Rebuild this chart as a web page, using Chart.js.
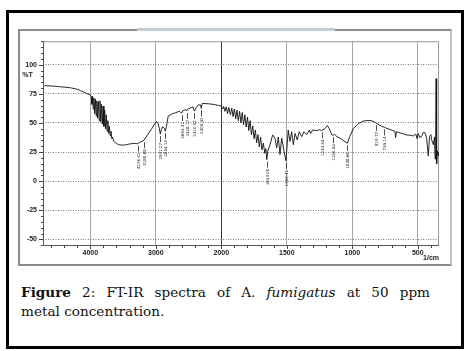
<!DOCTYPE html>
<html>
<head>
<meta charset="utf-8">
<script src="https://cdn.jsdelivr.net/npm/chart.js@4.4.0/dist/chart.umd.min.js"></script>
<style>
  body { margin: 0; background: #fff; width: 471px; height: 351px; overflow: hidden; position: relative; }
  #outer { position: absolute; left: 6px; top: 10px; width: 452px; height: 333px; border: 3px solid #000; }
  #frame { position: absolute; left: 18px; top: 29px; width: 430px; height: 233px;
           border: 2px solid #8c8c8c; border-right-color: #c4c4c4; }
  #band { position: absolute; left: 137px; top: 28px; width: 198px; height: 3px; background: #c3ccd8; }
  #frame canvas { position: absolute; left: 0; top: 0; }
  #cap { position: absolute; left: 21px; top: 283px; width: 409px;
         font-family: "DejaVu Serif", serif; font-size: 13.6px; line-height: 18.5px; color: #111; }
  #cap .l1 { text-align: justify; text-align-last: justify; }
</style>
</head>
<body>
<div id="outer"></div>
<div id="frame"><canvas id="ftir" width="430" height="233"></canvas></div>
<div id="band"></div>
<div id="cap">
  <div class="l1"><b>Figure</b> 2: FT-IR spectra of A. <i>fumigatus</i> at 50 ppm</div>
  <div>metal concentration.</div>
</div>
<script>
// spectrum: wavenumber (1/cm) and %T
const wavenumbers = [
  4700, 4600, 4500, 4400, 4300, 4200, 4150, 4100, 4050, 4000,
  3985, 3975, 3965, 3955, 3945, 3932, 3922, 3910, 3900, 3888,
  3876, 3864, 3852, 3840, 3828, 3816, 3804, 3792, 3780, 3768,
  3756, 3744, 3732, 3720, 3708, 3696, 3684, 3672, 3660, 3645,
  3625, 3600, 3575, 3550, 3500, 3450, 3400, 3330, 3276, 3240,
  3180, 3130, 3063, 3020, 2990, 2965, 2945, 2931, 2918, 2895,
  2870, 2854, 2838, 2810, 2760, 2700, 2640, 2605, 2585, 2545,
  2528, 2510, 2460, 2430, 2410, 2380, 2350, 2318, 2305, 2290,
  2200, 2100, 2040, 2000,
  1990, 1982, 1972, 1962, 1952, 1942, 1930, 1920, 1910, 1900,
  1890, 1880, 1870, 1860, 1850, 1840, 1830, 1820, 1810, 1800,
  1790, 1780, 1770, 1760, 1750, 1740, 1730, 1720, 1710, 1700,
  1690, 1679, 1668, 1660, 1653, 1645, 1628, 1608, 1590, 1577,
  1565, 1552, 1539, 1521, 1506, 1489, 1476, 1463, 1450, 1437,
  1420, 1405, 1386, 1369, 1348, 1328, 1318, 1302, 1272, 1250,
  1234, 1210, 1190, 1175, 1157, 1150, 1135, 1119, 1080, 1050,
  1038, 1019, 992, 954, 916, 865, 835, 819, 790, 755,
  712, 675, 669, 663, 620, 585, 560, 534, 515, 505,
  496, 485, 470, 458, 445, 432, 420, 410, 400, 394,
  381, 372, 368, 364, 360, 356, 350, 345, 340
];
const transmittance = [
  82, 81.8, 81.3, 80.8, 80.2, 79, 77.8, 76.5, 75.2, 74,
  72.5, 66, 73, 62, 71.5, 58, 70.5, 56, 69, 54,
  68.5, 52, 69, 51, 66, 49, 64.5, 47, 61, 45,
  57, 43, 52, 41, 47, 39, 43, 36.5, 38, 34.5,
  33.5, 32.5, 31.6, 31.2, 31, 31.3, 32, 32.5, 32.2, 33.5,
  35.2, 39.5, 45, 49, 51.3, 49.5, 45, 40.5, 44, 46.7,
  45.5, 43, 47, 56, 57.5, 58.8, 60, 58.5, 60.6, 61.4,
  60.3, 62, 63.2, 63.8, 60.2, 63.3, 65.5, 65.5, 62.5, 66.8,
  66.5, 65.8, 65, 64.5,
  62, 64.2, 60, 63.8, 58, 63.3, 57, 62.8, 55.5, 62,
  53.5, 61, 52, 60, 50, 59, 48.5, 57, 46.5, 55,
  43.5, 52, 40, 47.5, 36.5, 44, 33, 40, 29.5, 38,
  27, 32.8, 24, 28, 18.5, 26, 31.3, 39.7, 37, 28.6,
  38, 23, 37, 25.8, 17.5, 43.9, 34.2, 42.5, 31.3, 41,
  35.5, 42.5, 38.3, 42.5, 40, 43.9, 41, 44, 43.5, 44.2,
  43.5, 45, 47.8, 45, 40, 39.5, 40.2, 38.5, 36, 33.5,
  32.7, 38.3, 45.3, 49.4, 51.7, 52.2, 51.2, 50, 48, 46.2,
  44.4, 42.8, 37.5, 42.5, 41, 39.7, 39.5, 38.9, 40.5, 36.5,
  41, 37.5, 38.3, 42, 41.7, 37, 21.7, 38.3, 40, 35.5,
  31.3, 38, 19, 28, 88, 15, 26, 22, 25
];

// peak labels printed under the curve
const peakWavenumbers = [3276, 3180, 2931, 2854, 2605, 2528, 2410, 2305, 1653, 1506, 1234, 1150, 1038, 819, 755];
const peakTexts = ['3276.41', '3180.68', '2931.27', '2854.13', '2605.31', '2528.17', '2410.52', '2305.42',
                   '1653.00', '1506.41', '1234.44', '1150.54', '1038.66', '819.77', '755.14'];

const xTickLabels = [4000, 3000, 2000, 1500, 1000, 500];
const yTickLabels = [100, 75, 50, 25, 0, -25, -50];

// the x axis changes scale at 2000 1/cm (1000 per division above, 500 below)
const toU = w => w >= 2000 ? (w - 2000) / 1000 : (w - 2000) / 500;
const fromU = u => u >= 0 ? 2000 + u * 1000 : 2000 + u * 500;

const points = wavenumbers.map((w, i) => ({ x: toU(w), y: transmittance[i] }));

const extras = {
  id: 'extras',
  beforeDatasetsDraw(chart) {
    const { ctx, chartArea: a, scales: { x, y } } = chart;
    ctx.save();
    ctx.lineWidth = 1;
    // plot frame
    ctx.strokeStyle = '#9a9a9a';
    ctx.beginPath();
    ctx.moveTo(a.left, a.top + 0.5); ctx.lineTo(a.right - 0.5, a.top + 0.5); ctx.lineTo(a.right - 0.5, a.bottom);
    ctx.stroke();
    ctx.strokeStyle = '#555';
    ctx.beginPath();
    ctx.moveTo(a.left + 0.5, a.top); ctx.lineTo(a.left + 0.5, a.bottom - 0.5); ctx.lineTo(a.right, a.bottom - 0.5);
    ctx.stroke();
    // y ticks, minor every 5
    ctx.strokeStyle = '#444';
    ctx.beginPath();
    for (let v = -55; v <= 120; v += 5) {
      const py = Math.round(y.getPixelForValue(v)) + 0.5;
      const len = v % 25 === 0 ? 4 : 2;
      ctx.moveTo(a.left - len, py); ctx.lineTo(a.left, py);
    }
    // x ticks, minor every 0.2 division
    for (let k = -16; k <= 13; k++) {
      const px = Math.round(x.getPixelForValue(k / 5)) + 0.5;
      const len = k % 5 === 0 ? 3 : 2;
      ctx.moveTo(px, a.bottom); ctx.lineTo(px, a.bottom + len);
    }
    ctx.stroke();
    // axis captions
    ctx.fillStyle = '#222';
    ctx.font = 'bold 7px "Liberation Sans", Arial, sans-serif';
    ctx.textAlign = 'center';
    ctx.textBaseline = 'middle';
    ctx.fillText('%T', 7.5, 44);
    ctx.textAlign = 'right';
    ctx.fillText('1/cm', a.right, a.bottom + 12);
    ctx.restore();
  },
  afterDatasetsDraw(chart) {
    const { ctx, scales: { x, y } } = chart;
    ctx.save();
    ctx.strokeStyle = '#222';
    ctx.fillStyle = '#222';
    ctx.lineWidth = 0.8;
    ctx.font = '4px "DejaVu Sans", sans-serif';
    ctx.textAlign = 'right';
    ctx.textBaseline = 'middle';
    peakWavenumbers.forEach((w, i) => {
      const j = wavenumbers.indexOf(w);
      const px = Math.round(x.getPixelForValue(toU(w))) + 0.5;
      const py = y.getPixelForValue(transmittance[j]);
      ctx.beginPath();
      ctx.moveTo(px, py + 2); ctx.lineTo(px, py + 8);
      ctx.stroke();
      ctx.save();
      ctx.translate(px, py + 9);
      ctx.rotate(-Math.PI / 2);
      ctx.fillText(peakTexts[i], 0, 0);
      ctx.restore();
    });
    ctx.restore();
  }
};

new Chart(document.getElementById('ftir'), {
  type: 'line',
  data: {
    datasets: [{
      data: points,
      borderColor: '#111',
      borderWidth: 0.9,
      pointRadius: 0,
      tension: 0,
      fill: false
    }]
  },
  options: {
    responsive: false,
    animation: false,
    layout: { padding: { top: 4, right: 11, left: 0, bottom: 0 } },
    plugins: { legend: { display: false }, tooltip: { enabled: false } },
    scales: {
      x: {
        type: 'linear',
        reverse: true,
        min: toU(338),
        max: toU(4722),
        afterBuildTicks: s => { s.ticks = xTickLabels.map(w => ({ value: toU(w) })); },
        afterFit: s => { s.height = 18; },
        ticks: {
          autoSkip: false, maxRotation: 0, padding: 3, color: '#222',
          font: { size: 7, weight: 'bold', family: '"Liberation Sans", Arial, sans-serif' },
          callback: v => String(Math.round(fromU(v)))
        },
        grid: { drawTicks: false, color: c => c.tick && c.tick.value === 0 ? '#3c3c3c' : '#a6a6a6', lineWidth: 1 },
        border: { display: false }
      },
      y: {
        min: -55.6,
        max: 120.2,
        afterBuildTicks: s => { s.ticks = yTickLabels.map(v => ({ value: v })); },
        afterFit: s => { s.width = 23; },
        ticks: {
          padding: 6, color: '#222',
          font: { size: 7, weight: 'bold', family: '"Liberation Sans", Arial, sans-serif' }
        },
        grid: { drawTicks: false, color: '#7a7a7a', lineWidth: 1 },
        border: { display: false, dash: [1, 1.5] }
      }
    }
  },
  plugins: [extras]
});
</script>
</body>
</html>
